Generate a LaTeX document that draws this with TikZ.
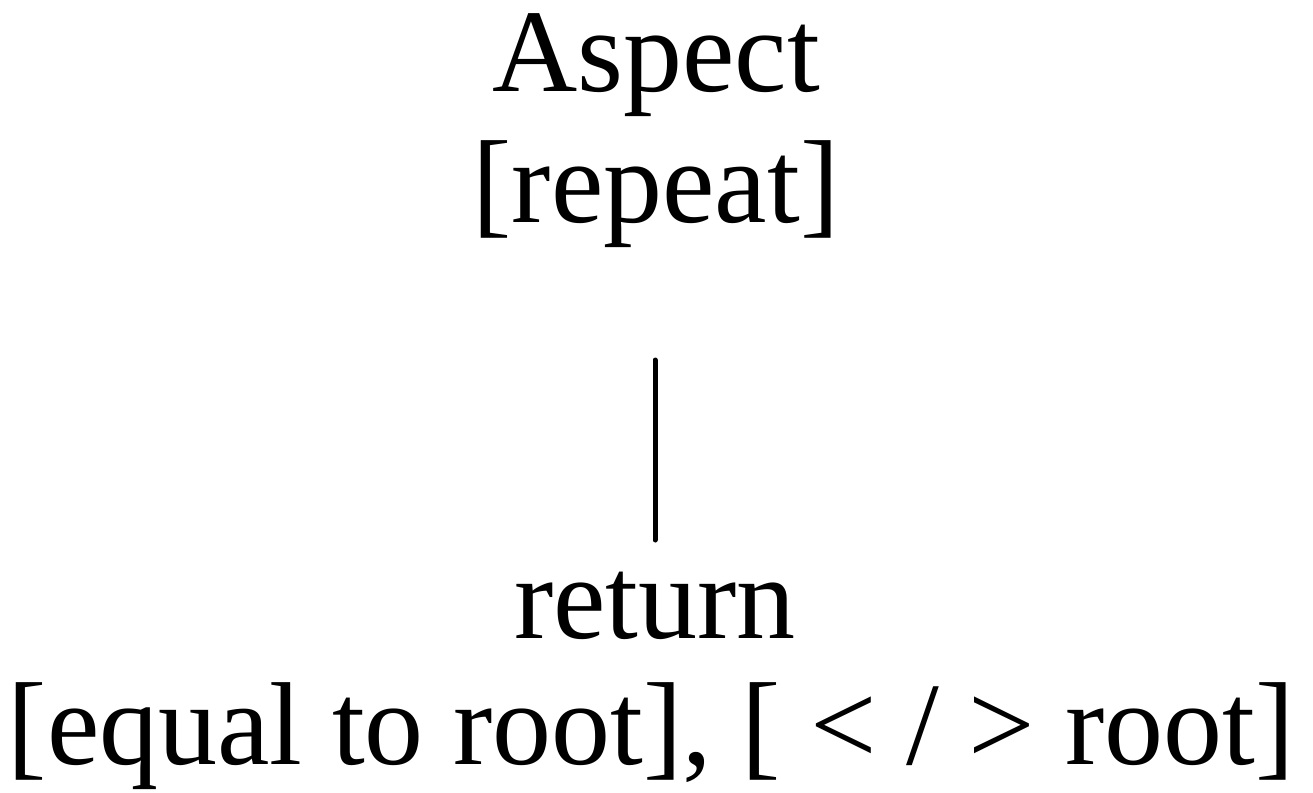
\documentclass[tikz,border=0pt]{standalone}
\usepackage{fontspec}
\setmainfont{Liberation Serif}
\begin{document}
\begin{tikzpicture}[x=1pt,y=-1pt,
  lbl/.style={anchor=base,inner sep=0pt,font=\fontsize{118}{140}\selectfont},
  conn/.style={line width=5pt,line cap=round}]
\useasboundingbox (0,0) rectangle (1313,792);
\node[lbl] (aspect) at (656,91) {Aspect};
\node[lbl] (repeat) at (656,222) {[repeat]};
\node[lbl] (return) at (655,638) {return};
\node[lbl] (cond) at (651,764) {[equal to root], [ < / > root]};
\coordinate (ltop) at (655,360);
\coordinate (lbot) at (655,540);
\draw[conn] (ltop) -- (lbot);
\end{tikzpicture}
\end{document}
